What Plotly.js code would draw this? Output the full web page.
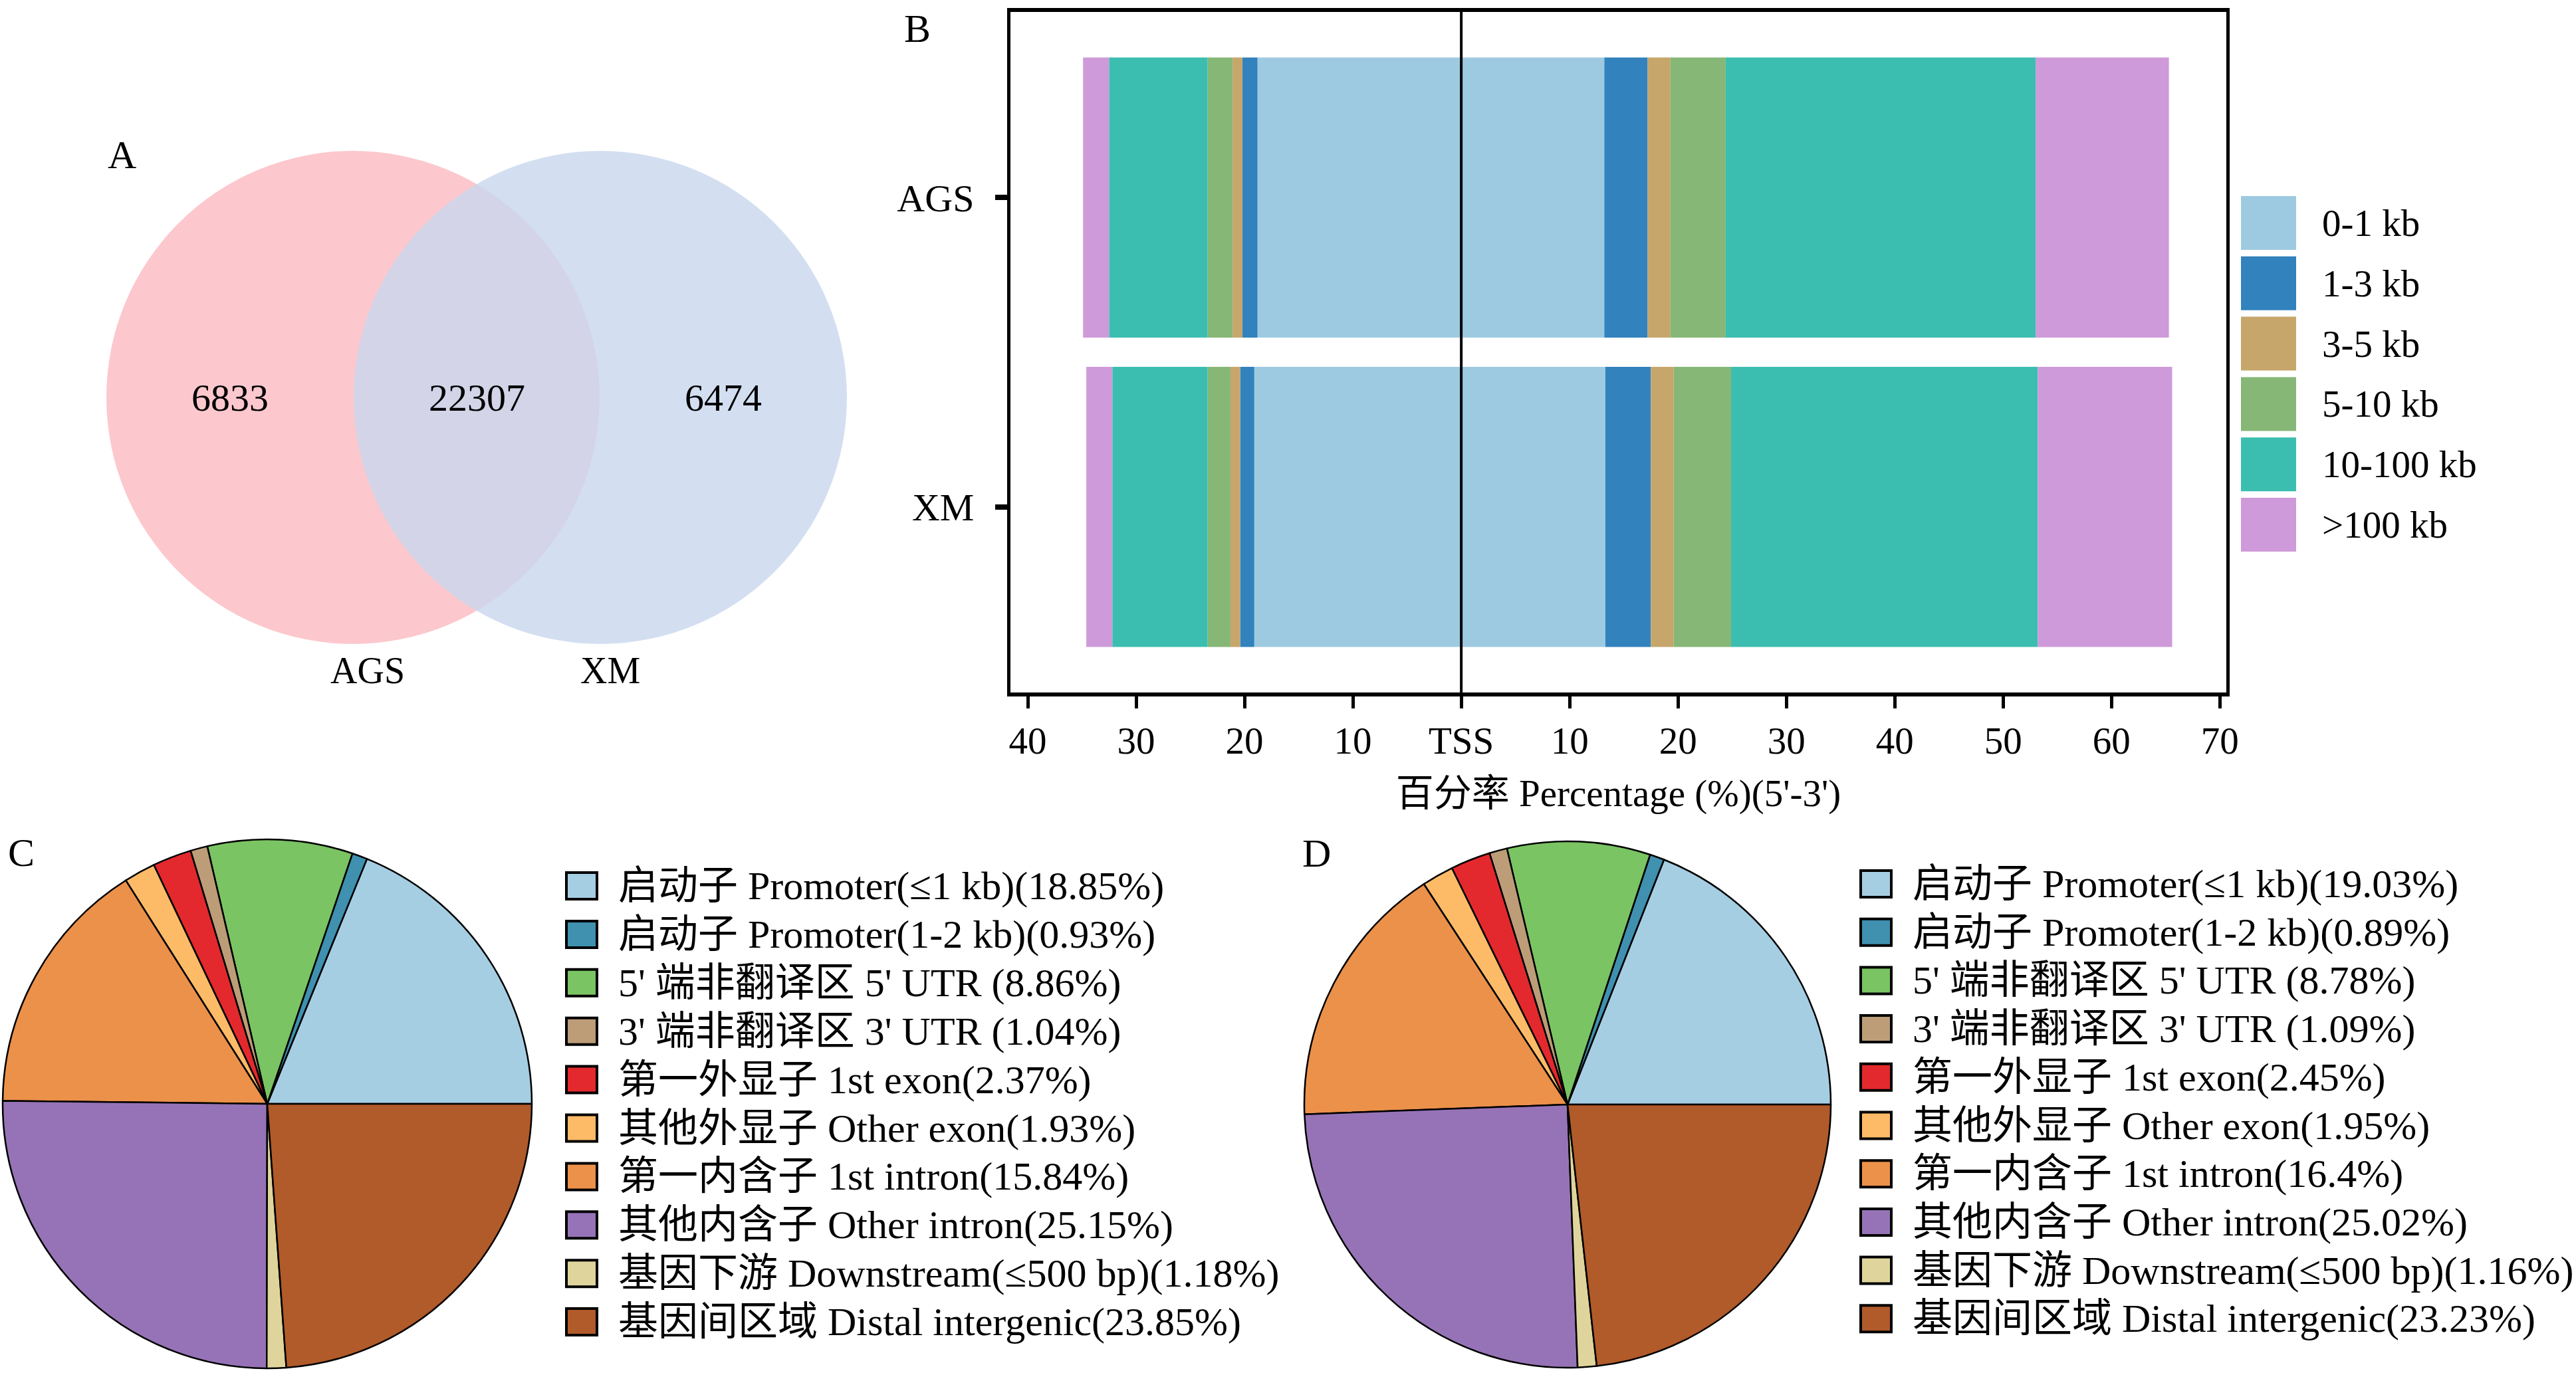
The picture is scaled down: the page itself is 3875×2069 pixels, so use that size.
<!DOCTYPE html>
<html>
<head>
<meta charset="utf-8">
<script src="https://cdn.plot.ly/plotly-3.0.1.min.js"></script>
<style>
  html, body { margin: 0; padding: 0; background: #fff; }
  #chart { width: 3875px; height: 2069px; }
</style>
</head>
<body>
<div id="chart"></div>
<script>
var W = 3875, H = 2069;
var FONT = 'Liberation Serif, Noto Sans CJK SC, serif';

// A - Venn
var vennSets = ['AGS', 'XM'];
var vennCounts = [6833, 22307, 6474];   // AGS only, shared, XM only

// B - peak distance to TSS
var groups = ['AGS', 'XM'];
var distBins = ['0-1 kb', '1-3 kb', '3-5 kb', '5-10 kb', '10-100 kb', '>100 kb'];
var distColors = ['#9ecae1', '#3182bd', '#c6a66a', '#86b776', '#3bbeb0', '#ce9ad9'];
var upAGS   = [18.8, 1.4, 0.9, 2.3, 9.1, 2.4];    // 5' side
var upXM    = [19.1, 1.3, 0.9, 2.1, 8.8, 2.4];
var downAGS = [13.2, 4.0, 2.1, 5.1, 28.6, 12.3];  // 3' side
var downXM  = [13.3, 4.2, 2.1, 5.3, 28.3, 12.4];
var xTickVals = [-40, -30, -20, -10, 0, 10, 20, 30, 40, 50, 60, 70];
var xTickText = ['40', '30', '20', '10', 'TSS', '10', '20', '30', '40', '50', '60', '70'];

// C, D - genomic annotation
var regions = [
    '启动子 Promoter(≤1 kb)',
    '启动子 Promoter(1-2 kb)',
    "5' 端非翻译区 5' UTR ",
    "3' 端非翻译区 3' UTR ",
    '第一外显子 1st exon',
    '其他外显子 Other exon',
    '第一内含子 1st intron',
    '其他内含子 Other intron',
    '基因下游 Downstream(≤500 bp)',
    '基因间区域 Distal intergenic'
];
var regionColors = ['#a6cee3', '#4090b0', '#7ac463', '#bc9d78', '#e3292d',
                    '#fdbb68', '#ec914a', '#9673b6', '#dfd59c', '#b15a2a'];
var pctC = [18.85, 0.93, 8.86, 1.04, 2.37, 1.93, 15.84, 25.15, 1.18, 23.85];
var pctD = [19.03, 0.89, 8.78, 1.09, 2.45, 1.95, 16.4, 25.02, 1.16, 23.23];

function px(x) { return x / W; }
function py(y) { return 1 - y / H; }

var traces = [];
var shapes = [];
var annotations = [];

// ---- B bars
distBins.forEach(function (bin, i) {
    traces.push({
        type: 'bar', orientation: 'h', y: [0, 1],
        x: [-upAGS[i], -upXM[i]],
        marker: { color: distColors[i], line: { width: 0 } },
        name: bin, showlegend: false, hoverinfo: 'name+x'
    });
    traces.push({
        type: 'bar', orientation: 'h', y: [0, 1],
        x: [downAGS[i], downXM[i]],
        marker: { color: distColors[i], line: { width: 0 } },
        name: bin, showlegend: false, hoverinfo: 'name+x'
    });
});

shapes.push({
    type: 'line', xref: 'x', yref: 'y domain',
    x0: 0, x1: 0, y0: 0, y1: 1,
    line: { color: '#000', width: 4 }
});

// B legend
distBins.forEach(function (bin, i) {
    var top = 295 + i * 90.8;
    shapes.push({
        type: 'rect', xref: 'paper', yref: 'paper',
        x0: px(3371), x1: px(3454), y0: py(top), y1: py(top + 81),
        fillcolor: distColors[i], line: { width: 0 }
    });
    annotations.push({
        xref: 'paper', yref: 'paper', x: px(3491), y: py(top + 40.5),
        xanchor: 'left', yanchor: 'middle', showarrow: false,
        text: bin, font: { size: 57 }
    });
});

// ---- C, D pies (first slice starts at 3 o'clock and runs counterclockwise)
function pieTrace(values, cx, cy, r) {
    var total = values.reduce(function (a, b) { return a + b; }, 0);
    return {
        type: 'pie', labels: regions, values: values,
        sort: false, direction: 'counterclockwise',
        rotation: 90 - values[0] / total * 360,
        marker: { colors: regionColors, line: { color: '#000', width: 2.5 } },
        textinfo: 'none', hoverinfo: 'label+percent', showlegend: false,
        domain: { x: [px(cx - r), px(cx + r)], y: [py(cy + r), py(cy - r)] }
    };
}
traces.push(pieTrace(pctC, 402, 1661, 398));
traces.push(pieTrace(pctD, 2358, 1662, 396));

function pieLegend(values, x0, y0, step) {
    regions.forEach(function (name, i) {
        var yc = y0 + i * step;
        shapes.push({
            type: 'rect', xref: 'paper', yref: 'paper',
            x0: px(x0), x1: px(x0 + 46), y0: py(yc - 20), y1: py(yc + 20),
            fillcolor: regionColors[i], line: { color: '#000', width: 4 }
        });
        annotations.push({
            xref: 'paper', yref: 'paper', x: px(x0 + 76), y: py(yc),
            xanchor: 'left', yanchor: 'middle', showarrow: false,
            text: name + '(' + values[i] + '%)', font: { size: 60 }
        });
    });
}
pieLegend(pctC, 852, 1333, 72.9);
pieLegend(pctD, 2799, 1330, 72.7);

// ---- A venn
var vennR = 371, vennCy = 598, vennCx = [531, 903];
shapes.push({
    type: 'circle', xref: 'paper', yref: 'paper', layer: 'below',
    x0: px(vennCx[0] - vennR), x1: px(vennCx[0] + vennR),
    y0: py(vennCy + vennR), y1: py(vennCy - vennR),
    fillcolor: '#fcc8cd', line: { width: 0 }
});
shapes.push({
    type: 'circle', xref: 'paper', yref: 'paper', layer: 'below', opacity: 0.8,
    x0: px(vennCx[1] - vennR), x1: px(vennCx[1] + vennR),
    y0: py(vennCy + vennR), y1: py(vennCy - vennR),
    fillcolor: 'rgb(200,215,238)', line: { width: 0 }
});
var vennTextX = [
    (vennCx[0] - vennR + vennCx[1] - vennR) / 2,
    (vennCx[1] - vennR + vennCx[0] + vennR) / 2,
    (vennCx[0] + vennR + vennCx[1] + vennR) / 2
];
vennCounts.forEach(function (n, i) {
    annotations.push({
        xref: 'paper', yref: 'paper', x: px(vennTextX[i]), y: py(vennCy),
        xanchor: 'center', yanchor: 'middle', showarrow: false,
        text: String(n), font: { size: 58 }
    });
});
var vennLabelX = [553, 918];
vennSets.forEach(function (s, i) {
    annotations.push({
        xref: 'paper', yref: 'paper', x: px(vennLabelX[i]), y: py(1009),
        xanchor: 'center', yanchor: 'middle', showarrow: false,
        text: s, font: { size: 56 }
    });
});

// panel letters
[['A', 183, 233], ['B', 1380, 43], ['C', 32, 1283], ['D', 1981, 1284]].forEach(function (p) {
    annotations.push({
        xref: 'paper', yref: 'paper', x: px(p[1]), y: py(p[2]),
        xanchor: 'center', yanchor: 'middle', showarrow: false,
        text: p[0], font: { size: 60 }
    });
});

var layout = {
    width: W, height: H,
    margin: { l: 0, r: 0, t: 0, b: 0, pad: 0 },
    paper_bgcolor: '#fff', plot_bgcolor: '#fff',
    font: { family: FONT, color: '#000', size: 57 },
    showlegend: false,
    barmode: 'relative',
    bargap: 0.094,
    xaxis: {
        domain: [px(1520), px(3349)],
        range: [-41.6, 70.6],
        tickmode: 'array', tickvals: xTickVals, ticktext: xTickText,
        ticks: 'outside', ticklen: 18, tickwidth: 5, tickcolor: '#000',
        showline: true, linewidth: 6, linecolor: '#000', mirror: true,
        showgrid: false, zeroline: false,
        tickfont: { size: 57 },
        title: { text: "百分率 Percentage (%)(5'-3')", font: { size: 57 }, standoff: 30 }
    },
    yaxis: {
        domain: [py(1042), py(18)],
        range: [1.6, -0.6],
        tickmode: 'array', tickvals: [0, 1], ticktext: groups,
        ticks: 'outside', ticklen: 18, tickwidth: 8, tickcolor: '#000',
        ticklabelstandoff: 20,
        showline: true, linewidth: 5, linecolor: '#000', mirror: true,
        showgrid: false, zeroline: false,
        tickfont: { size: 58 }
    },
    shapes: shapes,
    annotations: annotations
};

Plotly.newPlot('chart', traces, layout, { displayModeBar: false, staticPlot: true });
</script>
</body>
</html>
